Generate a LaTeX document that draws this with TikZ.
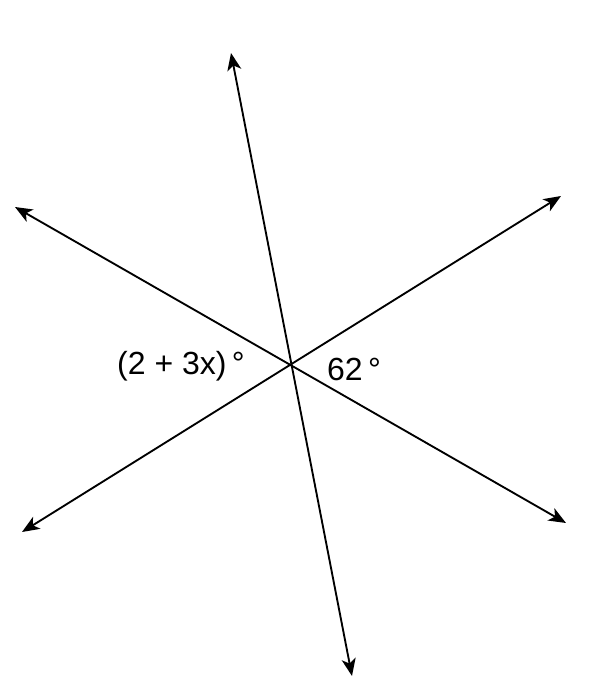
\documentclass[tikz,border=0pt]{standalone}
\usepackage{fontspec}
\setmainfont{Liberation Sans}
\usetikzlibrary{arrows.meta}
\tikzset{
    ray/.style={line width=1.4pt, {Stealth[length=13pt,width=10.5pt,inset=3.5pt]}-{Stealth[length=13pt,width=10.5pt,inset=3.5pt]}},
    anglelabel/.style={font=\fontsize{24}{28}\selectfont, inner sep=0pt}
}
\begin{document}
\begin{tikzpicture}[x=0.75pt, y=-0.75pt]
            \useasboundingbox (0, 0) rectangle (606, 696);
            % end points of the three lines
            \coordinate (O) at (290.5, 364.5);
            \coordinate (tl) at (15, 207);
            \coordinate (br) at (566, 523);
            \coordinate (tr) at (561, 196);
            \coordinate (bl) at (22, 532);
            \coordinate (tp) at (231, 53);
            \coordinate (bt) at (352, 676);
            \draw[ray] (tl) -- (br);
            \draw[ray] (bl) -- (tr);
            \draw[ray] (tp) -- (bt);
            % angle labels
            \node[anglelabel] (left) at (181, 366) {(2 + 3x)\,°};
            \node[anglelabel] (right) at (354, 369) {62\,°};
        \end{tikzpicture}
\end{document}
